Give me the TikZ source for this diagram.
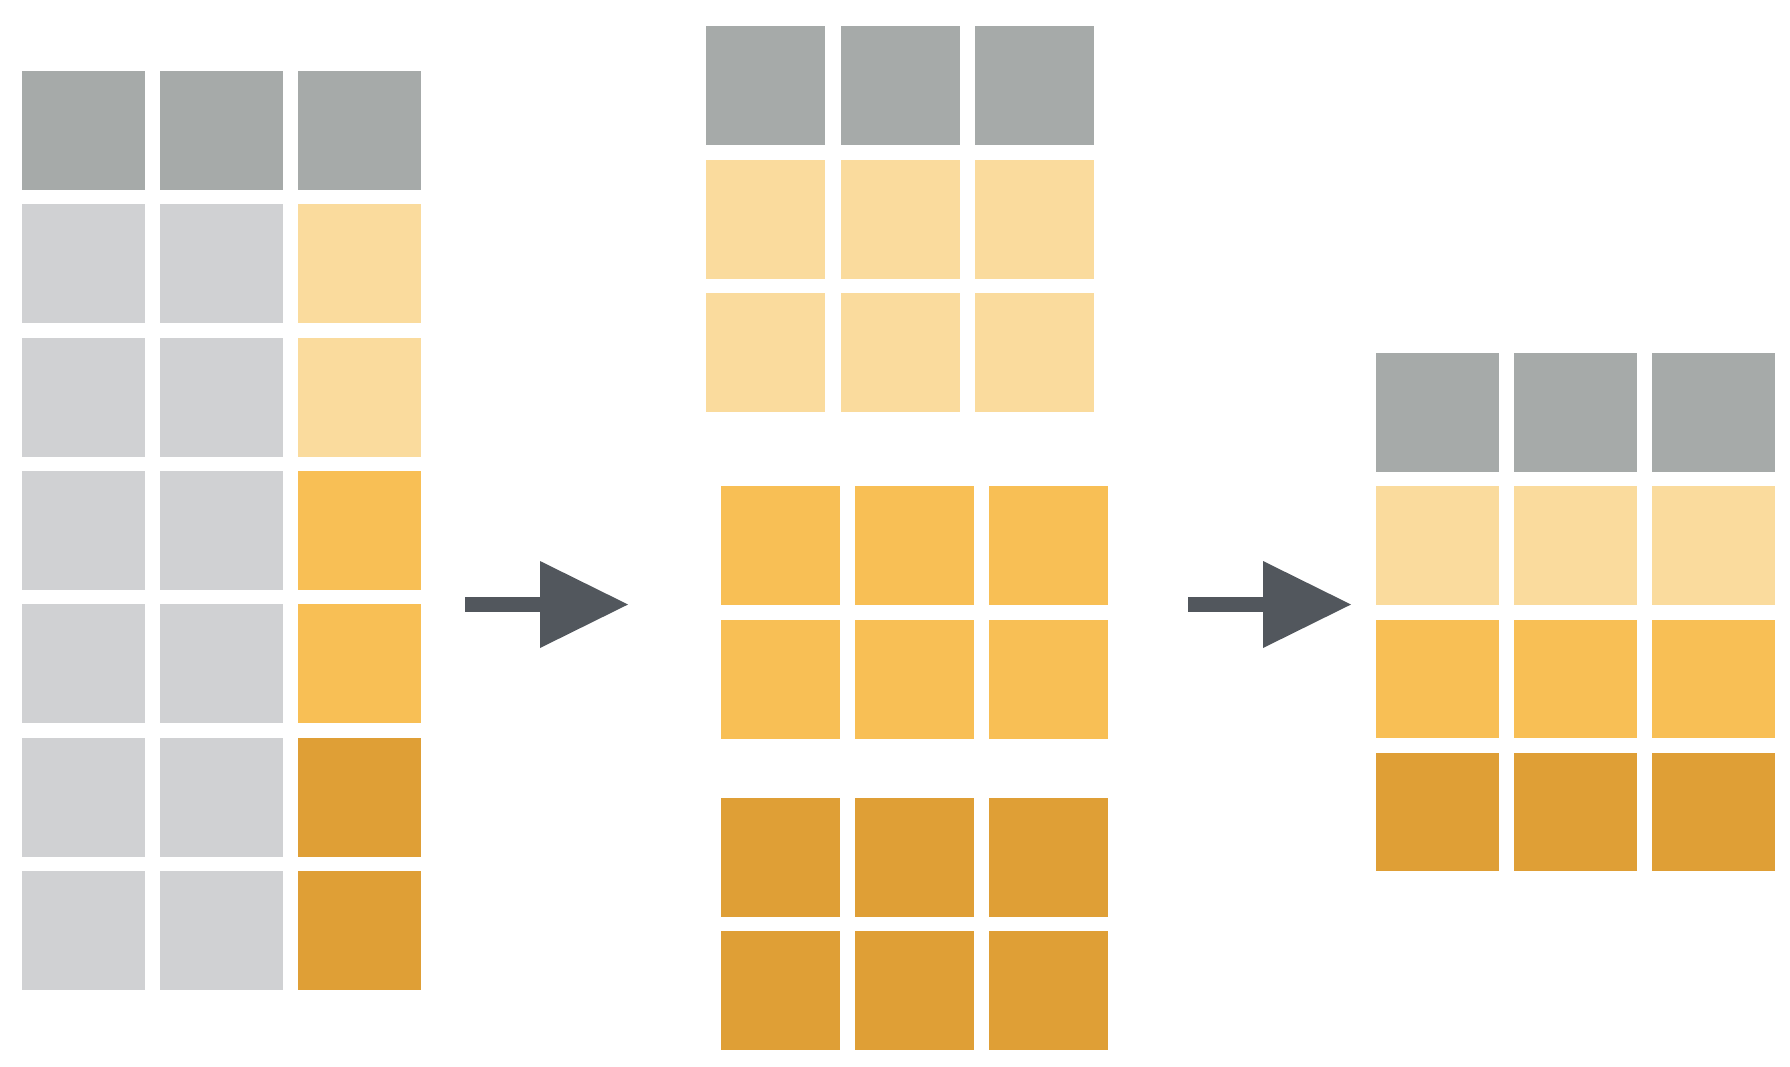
\documentclass[tikz,border=0pt]{standalone}
\usetikzlibrary{arrows.meta}
\definecolor{keygray}{RGB}{166,170,169}
\definecolor{restgray}{RGB}{208,209,211}
\definecolor{grpA}{RGB}{250,219,157}
\definecolor{grpB}{RGB}{248,191,85}
\definecolor{grpC}{RGB}{223,159,54}
\definecolor{arrowgray}{RGB}{82,87,93}

\begin{document}
\begin{tikzpicture}[x=1pt, y=-1pt,
    cell/.style={fill=#1, draw=none, inner sep=0pt, outer sep=0pt, anchor=north west,
                 minimum width=119pt, minimum height=119pt},
    wide/.style={minimum width=123pt},
    flow/.style={draw=arrowgray, line width=15pt,
                 -{Triangle[length=88pt, width=87pt, line width=0pt, fill=arrowgray]}}]
    \fill[white] (0,0) rectangle (1790,1066);
    \useasboundingbox (0,0) rectangle (1790,1066);

    % original table
    \foreach \ca/\cb/\cc [count=\r] in {keygray/keygray/keygray, restgray/restgray/grpA,
            restgray/restgray/grpA, restgray/restgray/grpB, restgray/restgray/grpB,
            restgray/restgray/grpC, restgray/restgray/grpC} {
        \node[cell=\ca, wide] (L\r-1) at (22, {71+133.3*(\r-1)}) {};
        \node[cell=\cb, wide] (L\r-2) at (160, {71+133.3*(\r-1)}) {};
        \node[cell=\cc, wide] (L\r-3) at (298, {71+133.3*(\r-1)}) {};
    }

    % split into groups
    \foreach \k in {1,2,3} {
        \node[cell=keygray] (A1-\k) at ({706+134.5*(\k-1)}, 26) {};
        \node[cell=grpA] (A2-\k) at ({706+134.5*(\k-1)}, 160) {};
        \node[cell=grpA] (A3-\k) at ({706+134.5*(\k-1)}, 293) {};
        \node[cell=grpB] (B1-\k) at ({721+134*(\k-1)}, 486) {};
        \node[cell=grpB] (B2-\k) at ({721+134*(\k-1)}, 620) {};
        \node[cell=grpC] (C1-\k) at ({721+134*(\k-1)}, 798) {};
        \node[cell=grpC] (C2-\k) at ({721+134*(\k-1)}, 931) {};
    }

    % combined result
    \foreach \c [count=\r] in {keygray, grpA, grpB, grpC} {
        \foreach \k in {1,2,3} {
            \node[cell=\c, minimum width=122.5pt, minimum height=118.5pt] (R\r-\k)
                at ({1376+138*(\k-1)}, {353+133.3*(\r-1)}) {};
        }
    }

    \coordinate (splitfrom) at (465,604.5);
    \coordinate (splitto) at (628,604.5);
    \coordinate (joinfrom) at (1188,604.5);
    \coordinate (jointo) at (1351,604.5);
    \draw[flow] (splitfrom) -- (splitto);
    \draw[flow] (joinfrom) -- (jointo);
\end{tikzpicture}
\end{document}
